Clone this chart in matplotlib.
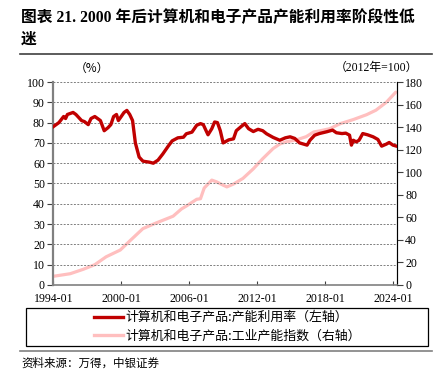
import matplotlib
matplotlib.use('Agg')
import matplotlib.pyplot as plt
import pandas as pd
from matplotlib.patches import Rectangle
from matplotlib.lines import Line2D

# capacity utilisation, computers & electronics (%), left axis
util_dates = ['1994-01', '1994-07', '1994-12', '1995-02', '1995-04', '1995-10', '1996-01',
              '1996-07', '1996-10', '1997-02', '1997-05', '1997-09', '1998-03', '1998-07',
              '1998-11', '1999-02', '1999-05', '1999-08', '1999-10', '2000-01', '2000-04',
              '2000-07', '2000-10', '2001-01', '2001-04', '2001-08', '2001-12', '2002-07',
              '2002-11', '2003-04', '2003-09', '2004-03', '2004-07', '2005-01', '2005-07',
              '2005-10', '2006-04', '2006-09', '2007-01', '2007-04', '2007-07', '2007-09',
              '2008-01', '2008-04', '2008-07', '2008-10', '2009-01', '2009-07', '2009-12',
              '2010-03', '2010-08', '2010-12', '2011-04', '2011-09', '2012-02', '2012-07',
              '2012-11', '2013-06', '2014-01', '2014-07', '2014-12', '2015-05', '2015-10',
              '2016-06', '2016-09', '2017-02', '2017-07', '2018-03', '2018-09', '2019-01',
              '2019-07', '2019-11', '2020-03', '2020-05', '2020-07', '2020-10', '2021-01',
              '2021-05', '2021-10', '2022-04', '2022-09', '2023-01', '2023-06', '2023-09',
              '2024-01', '2024-04']
util_vals = [78, 80, 83, 82, 84, 85, 84,
             81, 80.5, 79, 82, 83, 81, 76,
             77.5, 79, 83, 84, 81, 83, 85,
             86, 84, 81, 70, 63, 61, 60.5,
             60, 61.5, 64.5, 68.5, 71, 72.5, 72.8,
             74.5, 75.3, 78.7, 79.5, 79, 76, 74,
             77, 80.3, 80, 76, 70, 71.5, 72,
             76, 78, 79.5, 77, 75.6, 76.7, 76,
             74.5, 72.7, 71.3, 72.5, 73, 72.2, 70,
             68.9, 71.3, 73.8, 74.6, 75.5, 76.3, 75,
             74.6, 74.8, 73.8, 68.9, 71.3, 70.5, 71.3,
             74.6, 74, 73, 71.7, 68.4, 69.4, 70.2,
             68.9, 68.5]

# industrial capacity index (2012=100), right axis
cap_dates = ['1994-01', '1995-07', '1996-09', '1997-09', '1998-09', '1999-12', '2000-10',
             '2001-12', '2003-02', '2004-08', '2005-05', '2005-10', '2006-09', '2007-01',
             '2007-05', '2008-01', '2008-06', '2009-01', '2009-05', '2009-12', '2010-10',
             '2011-09', '2012-07', '2013-06', '2014-01', '2014-08', '2015-06', '2016-05',
             '2017-01', '2017-07', '2018-06', '2019-05', '2020-07', '2021-09', '2022-07',
             '2023-06', '2024-04']
cap_vals = [7.7, 10, 14, 18, 25, 31, 39,
            50, 55, 61, 67.5, 70, 76, 76.5,
            86, 93, 91.5, 88.5, 87, 89.5, 94.5,
            103, 112, 121, 125, 127, 128.5, 131.5,
            135.7, 136.6, 138.6, 143, 146.7, 151, 155,
            162, 171]

xtick_labels = ['1994-01', '2000-01', '2006-01', '2012-01', '2018-01', '2024-01']
label_util = '计算机和电子产品:产能利用率（左轴）'
label_cap = '计算机和电子产品:工业产能指数（右轴）'

CJK = ['Noto Sans CJK SC', 'DejaVu Sans']
NUM = ['Liberation Serif', 'Noto Sans CJK SC']
red = '#C00000'
pink = '#FFBFBF'

fig = plt.figure(figsize=(4.46, 3.83), dpi=100)
ax = fig.add_axes([0.1195, 0.2559, 0.770, 0.530])
ax2 = ax.twinx()

ud = pd.to_datetime(util_dates)
cd = pd.to_datetime(cap_dates)

ax2.plot(cd, cap_vals, color=pink, lw=2.3, solid_capstyle='round', zorder=2)
ax.plot(ud, util_vals, color=red, lw=2.4, solid_joinstyle='round', zorder=3)
ax.set_zorder(ax2.get_zorder() + 1)
ax.patch.set_visible(False)

ax.set_ylim(0, 100)
ax.set_yticks(range(0, 101, 10))
ax2.set_ylim(0, 180)
ax2.set_yticks(range(0, 181, 20))
ax.set_xlim(pd.Timestamp('1994-01-01'), pd.Timestamp('2024-05-01'))
ax.set_xticks(pd.to_datetime(xtick_labels))
ax.set_xticklabels(xtick_labels)

ax.grid(axis='y', linestyle=(0, (2, 1.5)), color='#7f7f7f', lw=0.7)
for a in (ax, ax2):
    a.spines['top'].set_visible(False)
    for t in a.get_xticklabels() + a.get_yticklabels():
        t.set_family(NUM)
        t.set_fontsize(8.6)
ax.spines['left'].set_color('#808080')
ax.spines['left'].set_linewidth(1.6)
ax.spines['bottom'].set_color('#808080')
ax.spines['bottom'].set_linewidth(1.2)
ax2.spines['right'].set_color('#404040')
ax2.spines['left'].set_visible(False)
ax2.spines['bottom'].set_visible(False)
ax.tick_params(axis='y', direction='out', length=4, width=0.8, color='#404040', pad=2)
ax.tick_params(axis='x', direction='in', length=3, width=0.8, color='#404040', pad=6)
ax2.tick_params(axis='y', direction='out', length=4, width=0.8, color='#404040', pad=2)

fig.text(0.206, 0.822, '（%）', family=CJK, fontsize=8.5, ha='center', va='center')
fig.text(0.843, 0.822, '（2012年=100）', family=NUM, fontsize=8.5, ha='center', va='center')

# title and rules
fig.text(0.047, 0.953, '图表 21. 2000 年后计算机和电子产品产能利用率阶段性低',
         family=NUM, fontsize=11.3, fontweight='bold', ha='left', va='center')
fig.text(0.047, 0.896, '迷', family=NUM, fontsize=11.3, fontweight='bold',
         ha='left', va='center')
fig.add_artist(Line2D([0.045, 0.968], [0.858, 0.858], color='#404040', lw=1.2))
fig.add_artist(Line2D([0.045, 0.968], [0.083, 0.083], color='#808080', lw=1.2))

# legend in a wide box
fig.add_artist(Rectangle((0.058, 0.097), 0.901, 0.100, transform=fig.transFigure,
                         fill=False, edgecolor='black', lw=0.9))
handles = [Line2D([], [], color=red, lw=2.4), Line2D([], [], color=pink, lw=2.4)]
fig.legend(handles, [label_util, label_cap], loc='center', bbox_to_anchor=(0.51, 0.147),
           frameon=False, prop={'family': CJK, 'size': 9.3}, handlelength=2.3,
           handletextpad=0.2, labelspacing=0.4, borderpad=0)

fig.text(0.049, 0.052, '资料来源：万得，中银证券', family=CJK, fontsize=8.3,
         style='italic', ha='left', va='center')

fig.savefig('out.png', dpi=100)
